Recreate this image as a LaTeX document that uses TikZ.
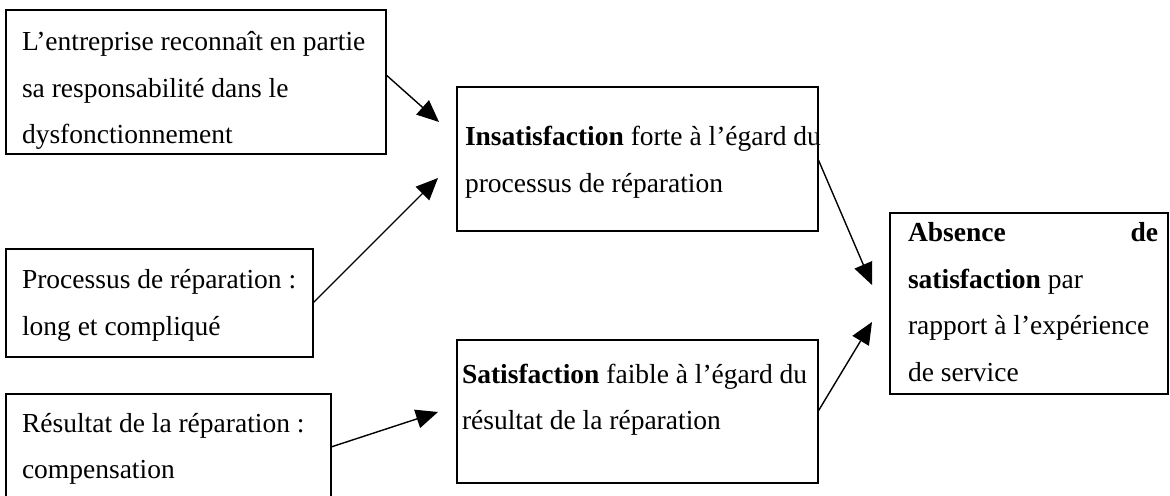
\documentclass[tikz,border=0pt]{standalone}
\usepackage{fontspec}
\setmainfont{Liberation Serif}
\usetikzlibrary{arrows.meta,calc}
\tikzset{
  box/.style={draw, line width=0.9pt, inner sep=0pt, outer sep=0pt, anchor=north west},
  txt/.style={inner sep=0pt, outer sep=0pt, anchor=base west,
              font=\fontsize{13.75pt}{23.25pt}\selectfont},
  link/.style={line width=0.7pt, -{Triangle[length=11pt,width=9.5pt]}},
}
\newcommand\lines[2]{\parbox[t]{#1}{\raggedright #2}}
\begin{document}
\begin{tikzpicture}[x=0.5pt,y=-0.5pt]
  \clip (0,0) rectangle (1170,496);
  \useasboundingbox (0,0) rectangle (1170,496);

  % boxes
  \node[box, minimum width=190pt,   minimum height=72pt]   (A) at (6,10)   {};
  \node[box, minimum width=180.5pt, minimum height=72pt]   (B) at (457,87) {};
  \node[box, minimum width=153.5pt, minimum height=54pt]   (C) at (6,249)  {};
  \node[box, minimum width=162.5pt, minimum height=53pt]   (D) at (6,394)  {};
  \node[box, minimum width=180.5pt, minimum height=71.5pt] (E) at (457,340) {};
  \node[box, minimum width=139pt,   minimum height=90.5pt] (F) at (890,213) {};

  % texts
  \node[txt] (tA) at (22,51) {\lines{200pt}{L’entreprise reconnaît en partie\\
    sa responsabilité dans le\\ dysfonctionnement}};
  \node[txt] (tB) at (465,146) {\lines{200pt}{\textbf{Insatisfaction} forte à l’égard du\\
    processus de réparation}};
  \node[txt] (tC) at (22,289) {\lines{200pt}{Processus de réparation :\\ long et compliqué}};
  \node[txt] (tD) at (22,432) {\lines{200pt}{Résultat de la réparation :\\ compensation}};
  \node[txt] (tE) at (462,383) {\lines{200pt}{\textbf{Satisfaction} faible à l’égard du\\
    résultat de la réparation}};
  \node[txt] (tF) at (908,242) {\lines{125pt}{\textbf{Absence}\hfill\textbf{de}\\
    \textbf{satisfaction} par\\ rapport à l’expérience\\ de service}};

  % arrow tips
  \coordinate (pB1) at (439,122);
  \coordinate (pB2) at (438,178);
  \coordinate (pE)  at (438,412);
  \coordinate (pF1) at (872,285);
  \coordinate (pF2) at (872,322);

  % connectors
  \draw[link] ($(A.north east)!0.45!(A.south east)$) -- (pB1);
  \draw[link] (C.east) -- (pB2);
  \draw[link] (D.east) -- (pE);
  \draw[link] (B.east) -- (pF1);
  \draw[link] (E.east) -- (pF2);
\end{tikzpicture}
\end{document}
